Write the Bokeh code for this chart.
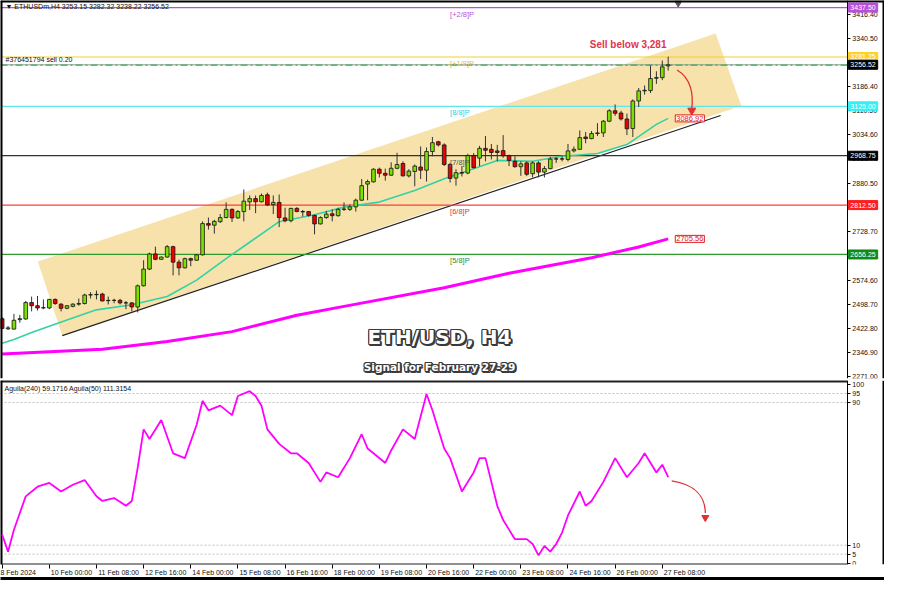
import math
from bokeh.plotting import figure
from bokeh.models import Range1d, FixedTicker, Label, LinearAxis, PrintfTickFormatter
from bokeh.layouts import column
from bokeh.embed import file_html
from bokeh.resources import INLINE
from bokeh.core.properties import value

FONT = "Liberation Sans"

# ETHUSD H4 candles, bar 0 = 8 Feb 2024 16:00
opens = [2453, 2421, 2420, 2450, 2452, 2504, 2494, 2487, 2487, 2514, 2499, 2486, 2492, 2499, 2501, 2528, 2529, 2531, 2510, 2511,
         2511, 2503, 2503, 2490, 2557, 2610, 2658, 2641, 2648, 2681, 2632, 2614, 2643, 2638, 2655, 2754, 2749, 2760, 2773, 2799,
         2772, 2792, 2823, 2833, 2823, 2845, 2814, 2821, 2772, 2763, 2802, 2792, 2792, 2780, 2753, 2773, 2785, 2779, 2799, 2799,
         2807, 2828, 2879, 2886, 2926, 2913, 2907, 2929, 2944, 2905, 2919, 2933, 2923, 2982, 3013, 3003, 2941, 2898, 2915, 2914,
         2969, 2961, 2992, 2989, 2984, 2985, 2969, 2951, 2934, 2946, 2912, 2946, 2917, 2928, 2958, 2959, 2957, 2984, 2989, 3028,
         3023, 3039, 3041, 3078, 3111, 3104, 3085, 3055, 3142, 3174, 3175, 3214, 3216, 3253.15]
highs = [2458, 2430, 2468, 2465, 2509, 2523, 2525, 2514, 2516, 2517, 2502, 2496, 2502, 2517, 2532, 2537, 2542, 2535, 2523, 2516,
         2516, 2509, 2506, 2561, 2638, 2662, 2681, 2650, 2686, 2684, 2640, 2646, 2646, 2658, 2761, 2773, 2766, 2784, 2821, 2802,
         2797, 2862, 2843, 2843, 2849, 2852, 2843, 2846, 2804, 2804, 2806, 2797, 2794, 2782, 2777, 2794, 2799, 2804, 2821, 2815,
         2833, 2895, 2893, 2929, 2931, 2928, 2948, 2978, 2951, 2926, 2941, 2998, 2995, 3028, 3016, 3008, 2946, 2926, 2936, 2975,
         2977, 3000, 3031, 3006, 3003, 3034, 2972, 2967, 2951, 2951, 2951, 2951, 2936, 2965, 2965, 2967, 3006, 2998, 3049, 3044,
         3047, 3072, 3082, 3116, 3131, 3111, 3102, 3147, 3183, 3191, 3254, 3236, 3270, 3282.32]
lows = [2420, 2417, 2419, 2440, 2450, 2476, 2479, 2483, 2483, 2497, 2476, 2483, 2489, 2494, 2498, 2517, 2514, 2508, 2498, 2502,
        2498, 2483, 2476, 2473, 2555, 2607, 2638, 2639, 2646, 2590, 2590, 2612, 2619, 2636, 2653, 2735, 2722, 2756, 2771, 2759,
        2769, 2761, 2797, 2787, 2821, 2810, 2784, 2743, 2758, 2758, 2790, 2776, 2776, 2720, 2751, 2769, 2761, 2776, 2794, 2794,
        2792, 2826, 2828, 2884, 2900, 2890, 2905, 2926, 2903, 2900, 2872, 2895, 2887, 2967, 2998, 2936, 2884, 2874, 2903, 2910,
        2928, 2936, 2951, 2957, 2951, 2962, 2936, 2931, 2905, 2905, 2900, 2900, 2900, 2926, 2946, 2951, 2951, 2979, 2987, 3008,
        3021, 3031, 3028, 3075, 3095, 3080, 3034, 3028, 3123, 3162, 3167, 3196, 3208, 3238.22]
closes = [2422, 2424, 2448, 2453, 2504, 2494, 2487, 2488, 2514, 2501, 2486, 2494, 2499, 2501, 2528, 2529, 2530, 2509, 2511, 2511,
          2503, 2503, 2490, 2557, 2610, 2658, 2641, 2648, 2681, 2632, 2614, 2643, 2638, 2655, 2754, 2749, 2761, 2773, 2799, 2772,
          2792, 2825, 2833, 2823, 2843, 2813, 2821, 2773, 2763, 2802, 2792, 2791, 2780, 2753, 2773, 2784, 2779, 2799, 2800, 2807,
          2828, 2874, 2887, 2926, 2913, 2907, 2929, 2941, 2905, 2920, 2936, 2923, 2982, 3010, 3003, 2941, 2897, 2915, 2914, 2969,
          2931, 2992, 2986, 2979, 2979, 2969, 2954, 2934, 2943, 2910, 2946, 2917, 2928, 2958, 2959, 2958, 2984, 2989, 3026, 3023,
          3039, 3041, 3078, 3111, 3103, 3085, 3054, 3142, 3174, 3176, 3213, 3216, 3250, 3256.52]
bars = list(range(len(opens)))

# moving averages (read at selected bars)
ma50_bars = [0, 2, 5, 11, 16, 22, 28, 33, 38, 42, 47, 53, 58, 64, 70, 75, 79, 84, 90, 95, 101, 106, 111, 113]
ma50_vals = [2375, 2387, 2409, 2449, 2481, 2497, 2523, 2575, 2643, 2695, 2760, 2782, 2806, 2822, 2859, 2896, 2921, 2954,
             2951, 2967, 2976, 3004, 3068, 3086.92]
ma240_bars = [0, 17, 28, 39, 50, 58, 75, 86, 100, 108, 113]
ma240_vals = [2341, 2356, 2381, 2412, 2464, 2492, 2551, 2597, 2646, 2680, 2705.56]

# Aguila oscillator
osc_bars = [0, 1, 2, 4, 6, 8, 10, 12, 14, 16, 17, 19, 21, 22, 23, 24, 25, 27, 29, 31, 33, 34, 35, 37, 39, 40, 42, 43, 44, 45,
            47, 49, 50, 52, 54, 55, 57, 59, 61, 62, 63, 65, 66, 68, 70, 72, 73, 75, 76, 78, 80, 81, 82, 84, 85, 87, 89, 90,
            91, 92, 93, 94, 95, 96, 98, 99, 100, 102, 104, 106, 108, 109, 111, 112, 113]
osc_vals = [16, 6.4, 18.7, 37.4, 42.8, 44.9, 40.1, 43.9, 46.5, 37.4, 34.8, 36.4, 32.1, 34.8, 53.5, 74.9, 69.5, 80.2, 61.5,
            58.8, 77.5, 90.9, 85.6, 88.2, 82.9, 93.6, 96.3, 93.6, 88.2, 74.9, 66.8, 61.5, 61.5, 56.1, 45.5, 50.8, 48.1, 58.8,
            72.2, 64.2, 61.5, 56.1, 63.1, 74.9, 69.5, 94.7, 85.6, 64.2, 58.8, 40.1, 50.8, 58.8, 58.8, 32.1, 24.1, 13.4, 13.4,
            10.7, 4.3, 9.6, 6.4, 10.7, 17.1, 26.7, 40.1, 32.1, 34.8, 45.5, 58.8, 48.1, 56.1, 61.5, 50.8, 55.1, 48.1]

levels = [3437.50, 3281.25, 3125.00, 2968.75, 2812.50, 2656.25]
level_names = ["[+2/8]P", "[+1/8]P", "[8/8]P", "[7/8]P", "[6/8]P", "[5/8]P"]
level_colors = ["#b94fd8", "#f2cf2a", "#5ee6ea", "#333333", "#ff3b3b", "#2e9a2e"]
level_box_colors = ["#b94fd8", "#ffd21f", "#33f0f5", "#000000", "#ff1e1e", "#138a13"]
level_text_colors = ["#b94fd8", "#e6bf2a", "#2fd0e0", "#555555", "#e03535", "#2a8c2a"]

price_ticks = [2271.00, 2346.90, 2422.80, 2498.70, 2574.60, 2650.50, 2728.70, 2804.60, 2880.50, 2958.70,
               3034.60, 3110.50, 3186.40, 3264.60, 3340.50, 3416.40]
current_price = 3256.52
order_price = 3255.6
osc_levels = [5, 10, 90, 95]
osc_ticks = [0, 5, 10, 90, 95, 100]
time_ticks = [0, 8, 16, 24, 32, 40, 48, 56, 64, 72, 80, 88, 96, 104, 112]
time_labels = ["8 Feb 2024", "10 Feb 00:00", "11 Feb 08:00", "12 Feb 16:00", "14 Feb 00:00", "15 Feb 08:00",
               "16 Feb 16:00", "18 Feb 00:00", "19 Feb 08:00", "20 Feb 16:00", "22 Feb 00:00", "23 Feb 08:00",
               "24 Feb 16:00", "26 Feb 00:00", "27 Feb 08:00"]

# channel drawing
chan_x = [6.05, 121.05, 125.4, 10.2]
chan_y = [2633.7, 3355.3, 3127.1, 2399.3]
trend_x = [10.2, 121.9]
trend_y = [2399.3, 3096.2]

X0, X_AXIS, X_END = -0.28, 143.4, 149.7
W = 884
H1, H2 = 380, 204
xr = Range1d(X0, X_END)
PY0, PY1 = 2263.7, 3460
OY0, OY1 = -0.8, 102.3


def axis_style(a, size="7px"):
    a.major_label_text_font = FONT
    a.major_label_text_font_size = size
    a.major_label_text_color = "#111"
    a.major_tick_in = 0
    a.major_tick_out = 3
    a.minor_tick_line_color = None
    a.axis_line_color = "black"
    a.major_tick_line_color = "black"
    a.major_label_standoff = 2


# ---------------- main price panel ----------------
p1 = figure(width=W, height=H1, x_range=xr, y_range=Range1d(PY0, PY1),
            output_backend="svg", toolbar_location=None, x_axis_location=None,
            y_axis_location=None, min_border_left=0, min_border_right=0,
            min_border_top=0, min_border_bottom=2)
p1.grid.visible = False
p1.outline_line_color = None
p1.background_fill_color = "white"
ax = LinearAxis(fixed_location=X_AXIS, ticker=FixedTicker(ticks=price_ticks),
                formatter=PrintfTickFormatter(format="%.2f"))
axis_style(ax)
p1.add_layout(ax, "right")

# channel
p1.patch(chan_x, chan_y, fill_color="#f6dd9c", fill_alpha=0.85, line_color=None)
p1.line(trend_x, trend_y, line_color="#222", line_width=1.2)

# level lines (end at the price scale)
p1.segment(x0=[X0] * len(levels), x1=[X_AXIS] * len(levels), y0=levels, y1=levels,
           line_color=level_colors, line_width=1.2)
p1.segment(x0=[X0], x1=[X_AXIS], y0=[current_price], y1=[current_price], line_color="#9a9a9a", line_width=1)
p1.segment(x0=[X0], x1=[X_AXIS], y0=[order_price], y1=[order_price], line_color="#2fb34a",
           line_width=1.3, line_dash="7 3 2 3")

# moving averages
p1.line(ma240_bars, ma240_vals, line_color="#ff00ff", line_width=3)
p1.line(ma50_bars, ma50_vals, line_color="#33d1a6", line_width=1.6)

# candles
body_top = [max(o, c) for o, c in zip(opens, closes)]
body_bot = [min(o, c) for o, c in zip(opens, closes)]
body_col = ["#7ee000" if c >= o else "#ee0000" for o, c in zip(opens, closes)]
p1.segment(x0=bars, y0=lows, x1=bars, y1=highs, line_color="#333", line_width=1)
p1.vbar(x=bars, width=0.62, top=body_top, bottom=body_bot, fill_color=body_col,
        line_color="#111", line_width=0.8)

# level names
p1.text(x=[76] * len(levels), y=levels, text=level_names, text_color=level_text_colors,
        text_font=value(FONT), text_font_size="7.5px", text_baseline="top", text_align="left",
        y_offset=2)

# right-hand price boxes
for lv, bg in zip(levels, level_box_colors):
    p1.add_layout(Label(x=X_AXIS, y=lv, x_offset=1, text="%.2f" % lv, text_align="left",
                        text_baseline="middle", text_font=FONT, text_font_size="7px",
                        text_color="white", background_fill_color=bg, border_line_color=bg,
                        padding=2))
p1.add_layout(Label(x=X_AXIS, y=current_price, x_offset=1, text="%.2f" % current_price, text_align="left",
                    text_baseline="middle", text_font=FONT, text_font_size="7px",
                    text_color="white", background_fill_color="black", border_line_color="black",
                    padding=2))

# MA value boxes
for val in (ma50_vals[-1], ma240_vals[-1]):
    p1.add_layout(Label(x=114.2, y=val, text="%.2f" % val, text_align="left", text_baseline="middle",
                        text_font=FONT, text_font_size="7.5px", text_color="#e02020",
                        background_fill_color="white", border_line_color="#e02020", padding=1))

# header texts
p1.add_layout(Label(x=X0, y=PY1, x_offset=5, y_offset=-2, text_baseline="top",
                    text="\u25bc ETHUSDm,H4  %.2f %.2f %.2f %.2f" % (opens[-1], highs[-1], lows[-1], closes[-1]),
                    text_font=FONT, text_font_size="7px", text_color="#111"))
p1.add_layout(Label(x=X0, y=order_price, x_offset=5, y_offset=2, text_baseline="bottom",
                    text="#376451794 sell 0.20", text_font=FONT, text_font_size="7px",
                    text_color="#111"))
p1.scatter(x=[114.7], y=[3452], marker="inverted_triangle", size=7, fill_color="#555", line_color="#555")

# sell annotation
p1.text(x=[106.2], y=[3321], text=["Sell below 3,281"], text_color="#e3324e",
        text_font=value(FONT), text_font_style="bold", text_font_size="10px",
        text_align="center", text_baseline="middle")
p1.bezier(x0=[114.5], y0=[3240], cx0=[116.9], cy0=[3214], cx1=[117.3], cy1=[3162],
          x1=[117.0], y1=[3118], line_color="#e03030", line_width=1.3)
p1.scatter(x=[117.0], y=[3112], marker="triangle", angle=math.pi, size=8,
           fill_color="#e03030", line_color="#e03030")

# big titles with shadow
for txt, yy, fs in (("ETH/USD, H4", 2396, "20px"), ("Signal for February 27-29", 2301, "10.5px")):
    for dx, dy in ((-1, -1), (1, -1), (-1, 1), (1, 1), (2, 2), (0, 2), (2, 0), (-1, 0), (1, 0), (0, -1), (0, 1)):
        p1.text(x=[74.2], y=[yy], text=[txt], text_color="#3a3a3a", text_font=value("DejaVu Sans"),
                text_font_style="bold", text_font_size=fs, text_align="center",
                text_baseline="middle", x_offset=dx, y_offset=dy)
    p1.text(x=[74.2], y=[yy], text=[txt], text_color="white", text_font=value("DejaVu Sans"),
            text_font_style="bold", text_font_size=fs, text_align="center", text_baseline="middle")

# window border (top, left, right)
p1.segment(x0=[X0, X0, X_END], x1=[X_END, X0, X_END], y0=[PY1, PY0, PY0], y1=[PY1, PY1, PY1],
           line_color="black", line_width=4)

# ---------------- oscillator panel ----------------
p2 = figure(width=W, height=H2, x_range=xr, y_range=Range1d(OY0, OY1),
            output_backend="svg", toolbar_location=None, y_axis_location=None,
            x_axis_location=None, min_border_left=0, min_border_right=0,
            min_border_top=0, min_border_bottom=0)
p2.grid.visible = False
p2.outline_line_color = None
ay = LinearAxis(fixed_location=X_AXIS, ticker=FixedTicker(ticks=osc_ticks))
axis_style(ay)
p2.add_layout(ay, "right")

# tick marks of the time axis
tick_axis = LinearAxis(ticker=FixedTicker(ticks=time_ticks),
                       major_label_overrides={t: "" for t in time_ticks})
axis_style(tick_axis, "1px")
tick_axis.axis_line_color = None
tick_axis.major_tick_out = 4
tick_axis.major_label_standoff = 0
p2.add_layout(tick_axis, "below")
# time labels, written to the right of each tick as MT4 does
label_pos = [t + 3.75 for t in time_ticks]
label_pos[0] = 2.4
label_axis = LinearAxis(ticker=FixedTicker(ticks=label_pos),
                        major_label_overrides={t: s for t, s in zip(label_pos, time_labels)})
axis_style(label_axis, "7px")
label_axis.axis_line_color = None
label_axis.major_tick_line_color = None
label_axis.major_tick_out = 0
label_axis.major_label_standoff = 0
p2.add_layout(label_axis, "below")
# bottom window border
border_axis = LinearAxis(ticker=FixedTicker(ticks=[X0, X_END]), bounds=(X0, X_END),
                         major_label_overrides={X0: "", X_END: ""})
border_axis.major_label_text_font_size = "1px"
border_axis.major_tick_line_color = None
border_axis.minor_tick_line_color = None
border_axis.major_label_standoff = 0
border_axis.axis_line_color = "black"
border_axis.axis_line_width = 3
p2.add_layout(border_axis, "below")

for lv in osc_levels:
    p2.segment(x0=[X0], x1=[X_AXIS], y0=[lv], y1=[lv], line_color="#c0c0c0", line_width=1,
               line_dash="2 2")
p2.segment(x0=[X0], x1=[X_AXIS], y0=[OY1], y1=[OY1], line_color="#222", line_width=4)
p2.segment(x0=[X0], x1=[X_AXIS], y0=[OY0], y1=[OY0], line_color="#222", line_width=2)
p2.segment(x0=[X0, X_END], x1=[X0, X_END], y0=[OY0, OY0], y1=[OY1, OY1], line_color="black", line_width=4)
p2.line(osc_bars, osc_vals, line_color="#ff00ff", line_width=1.8)
p2.add_layout(Label(x=X0, y=OY1, x_offset=4, y_offset=-4, text_baseline="top",
                    text="Aguila(240) 59.1716  Aguila(50) 111.3154", text_font=FONT,
                    text_font_size="7px", text_color="#111"))
p2.bezier(x0=[113.6], y0=[46], cx0=[117.6], cy0=[44], cx1=[119.3], cy1=[37],
          x1=[119.3], y1=[28], line_color="#e03030", line_width=1.3)
p2.scatter(x=[119.3], y=[25.5], marker="triangle", angle=math.pi, size=7,
           fill_color="#e03030", line_color="#e03030")

layout = column(p1, p2, spacing=0)
open("out.html", "w").write(file_html(layout, INLINE))
